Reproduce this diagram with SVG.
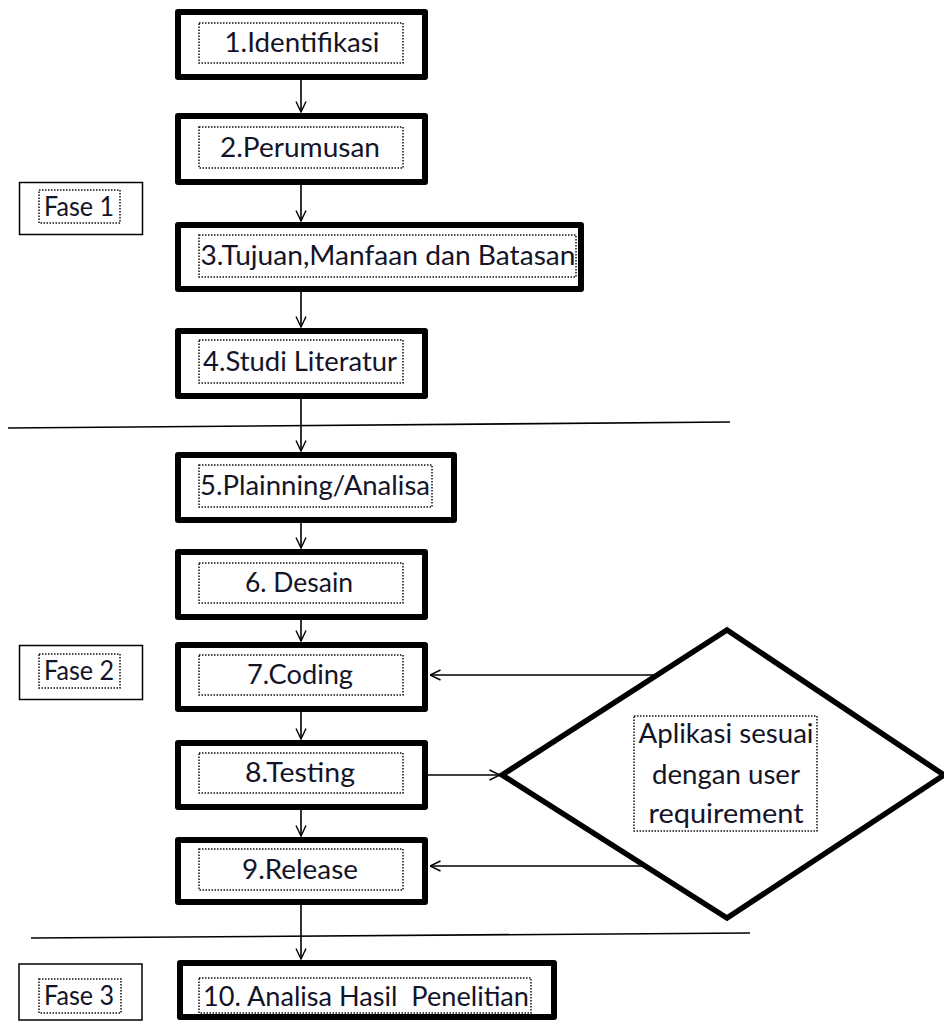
<svg xmlns="http://www.w3.org/2000/svg" width="944" height="1023" viewBox="0 0 944 1023">
<style>
.box{fill:#fff;stroke:#000;stroke-width:6;stroke-linejoin:round}
.fase{fill:#fff;stroke:#000;stroke-width:1.5}
.dot{fill:none;stroke:#111;stroke-width:1.5;stroke-dasharray:1.5 1.5}
.t{font-family:Lato,"Liberation Sans",sans-serif;font-size:27px;fill:#141428;text-anchor:middle}
.c{fill:none;stroke:#000;stroke-width:1.6}
.sep{fill:none;stroke:#000;stroke-width:1.6}
</style>
<defs>
<marker id="arr" viewBox="0 0 12 12" refX="11.5" refY="6" markerWidth="12" markerHeight="12" markerUnits="userSpaceOnUse" orient="auto">
<path d="M1,1 L11.5,6 L1,11" fill="none" stroke="#000" stroke-width="1.4"/>
</marker>
</defs>
<rect width="944" height="1023" fill="#fff"/>
<g id="separators">
<line class="sep" x1="8" y1="428" x2="730" y2="422"/>
<line class="sep" x1="31" y1="938" x2="750" y2="933"/>
</g>
<g id="connectors">
<line class="c" x1="301" y1="80" x2="301" y2="112" marker-end="url(#arr)"/>
<line class="c" x1="301" y1="185" x2="301" y2="221" marker-end="url(#arr)"/>
<line class="c" x1="301" y1="292" x2="301" y2="327" marker-end="url(#arr)"/>
<line class="c" x1="301" y1="399" x2="301" y2="451" marker-end="url(#arr)"/>
<line class="c" x1="301" y1="523" x2="301" y2="548" marker-end="url(#arr)"/>
<line class="c" x1="301" y1="620" x2="301" y2="641" marker-end="url(#arr)"/>
<line class="c" x1="301" y1="712" x2="301" y2="739" marker-end="url(#arr)"/>
<line class="c" x1="301" y1="810" x2="301" y2="836" marker-end="url(#arr)"/>
<line class="c" x1="301" y1="905" x2="301" y2="959" marker-end="url(#arr)"/>
<line class="c" x1="428" y1="775" x2="500" y2="775" marker-end="url(#arr)"/>
<line class="c" x1="657" y1="675" x2="430" y2="675" marker-end="url(#arr)"/>
<line class="c" x1="645" y1="866" x2="430" y2="866" marker-end="url(#arr)"/>
</g>
<g id="fase1">
<rect class="fase" x="19.5" y="182.5" width="123" height="52"/>
<rect class="dot" x="39" y="190" width="81" height="33"/>
<text class="t" x="79" y="216" textLength="70" lengthAdjust="spacingAndGlyphs">Fase 1</text>
</g>
<g id="fase2">
<rect class="fase" x="19.5" y="645.5" width="123" height="54"/>
<rect class="dot" x="39" y="654" width="81" height="34"/>
<text class="t" x="79" y="680" textLength="70" lengthAdjust="spacingAndGlyphs">Fase 2</text>
</g>
<g id="fase3">
<rect class="fase" x="19" y="964" width="123" height="56"/>
<rect class="dot" x="39" y="979" width="82" height="34"/>
<text class="t" x="79" y="1005" textLength="70" lengthAdjust="spacingAndGlyphs">Fase 3</text>
</g>
<g id="n1">
<rect class="box" x="178" y="12" width="247" height="65"/>
<rect class="dot" x="199" y="23" width="204" height="40"/>
<text class="t" x="302" y="52" textLength="155" lengthAdjust="spacingAndGlyphs">1.Identifikasi</text>
</g>
<g id="n2">
<rect class="box" x="178" y="116" width="247" height="66"/>
<rect class="dot" x="199" y="127" width="204" height="41"/>
<text class="t" x="300" y="157" textLength="160" lengthAdjust="spacingAndGlyphs">2.Perumusan</text>
</g>
<g id="n3">
<rect class="box" x="178" y="225" width="403" height="64"/>
<rect class="dot" x="199" y="235" width="377" height="42"/>
<text class="t" x="388" y="265" textLength="375" lengthAdjust="spacingAndGlyphs">3.Tujuan,Manfaan dan Batasan</text>
</g>
<g id="n4">
<rect class="box" x="178" y="331" width="247" height="65"/>
<rect class="dot" x="199" y="340" width="204" height="43"/>
<text class="t" x="300" y="371" textLength="194" lengthAdjust="spacingAndGlyphs">4.Studi Literatur</text>
</g>
<g id="n5">
<rect class="box" x="178" y="455" width="276" height="65"/>
<rect class="dot" x="199" y="465" width="233" height="42"/>
<text class="t" x="315" y="495" textLength="230" lengthAdjust="spacingAndGlyphs">5.Plainning/Analisa</text>
</g>
<g id="n6">
<rect class="box" x="178" y="552" width="247" height="65"/>
<rect class="dot" x="199" y="563" width="204" height="40"/>
<text class="t" x="299" y="592" textLength="108" lengthAdjust="spacingAndGlyphs">6. Desain</text>
</g>
<g id="n7">
<rect class="box" x="178" y="645" width="247" height="64"/>
<rect class="dot" x="199" y="655" width="204" height="40"/>
<text class="t" x="300" y="684" textLength="106" lengthAdjust="spacingAndGlyphs">7.Coding</text>
</g>
<g id="n8">
<rect class="box" x="178" y="743" width="247" height="64"/>
<rect class="dot" x="199" y="753" width="204" height="40"/>
<text class="t" x="300" y="782" textLength="110" lengthAdjust="spacingAndGlyphs">8.Testing</text>
</g>
<g id="n9">
<rect class="box" x="178" y="840" width="247" height="62"/>
<rect class="dot" x="199" y="849" width="204" height="41"/>
<text class="t" x="300" y="879" textLength="116" lengthAdjust="spacingAndGlyphs">9.Release</text>
</g>
<g id="n10">
<rect class="box" x="180" y="963" width="374" height="54"/>
<rect class="dot" x="199" y="978" width="332" height="35"/>
<text class="t" x="366" y="1006" textLength="326" lengthAdjust="spacingAndGlyphs" xml:space="preserve">10. Analisa Hasil  Penelitian</text>
</g>
<g id="decision">
<polygon points="727,630 944,775 727,918 502,775" fill="#fff" stroke="#000" stroke-width="5.5" stroke-linejoin="miter"/>
<rect class="dot" x="634" y="716" width="183" height="115"/>
<text class="t" x="726" y="743" textLength="175" lengthAdjust="spacingAndGlyphs">Aplikasi sesuai</text>
<text class="t" x="726" y="784" textLength="148" lengthAdjust="spacingAndGlyphs">dengan user</text>
<text class="t" x="726" y="823" textLength="155" lengthAdjust="spacingAndGlyphs">requirement</text>
</g>
</svg>
